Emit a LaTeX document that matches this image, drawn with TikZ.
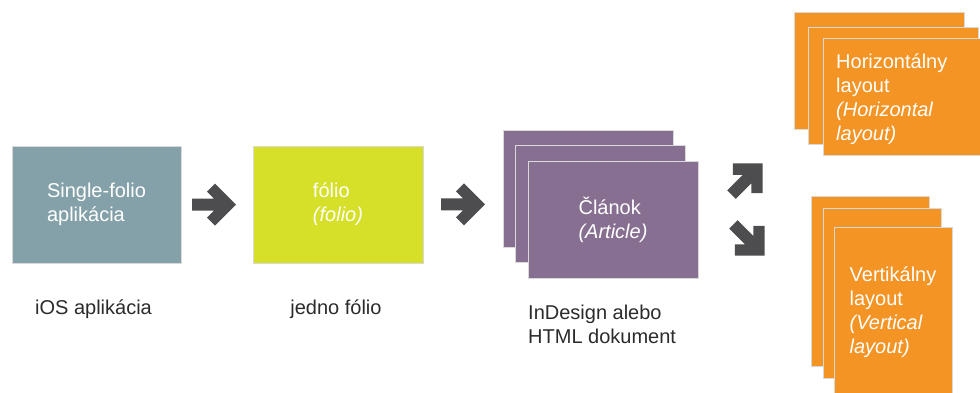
\documentclass[tikz,border=0pt]{standalone}
\usepackage{fontspec}
\setmainfont{Liberation Sans}
\usetikzlibrary{calc}
\definecolor{tealbox}{HTML}{84A1A9}
\definecolor{lime}{HTML}{D6E029}
\definecolor{plum}{HTML}{876F91}
\definecolor{orng}{HTML}{F39424}
\definecolor{agray}{HTML}{4D4D4F}
\definecolor{tgray}{HTML}{2B2B2B}
\tikzset{
  card/.style={draw=white!85!black, line width=0.8pt, inner sep=0pt, minimum width=170pt, minimum height=117pt},
  tallcard/.style={card, minimum width=118pt, minimum height=170pt},
  intext/.style={text=white, align=left, inner sep=0pt, font=\fontsize{20}{24}\selectfont},
  caption/.style={text=tgray, align=left, inner sep=0pt, font=\fontsize{20}{24}\selectfont},
  blockarrow/.pic={\fill[agray] (-22,-6) -- (0,-6) -- (-7,-13) -- (1,-21) -- (22,0) -- (1,21) -- (-7,13) -- (0,6) -- (-22,6) -- cycle;}
}
\begin{document}
\begin{tikzpicture}[x=1pt,y=-1pt]
\useasboundingbox (0,0) rectangle (980,392);
\clip (0,0) rectangle (980,392);
% first box
\node[card, fill=tealbox, minimum width=169pt] (app) at (96.5,204.5) {};
\node[intext] (apptext) at (app.center) {Single-folio\\aplikácia};
\node[caption] (appcap) at (93.5,309) {iOS aplikácia};
% folio
\node[card, fill=lime] (folio) at (338,204.5) {};
\node[intext] (foliotext) at (folio.center) {fólio\\\textit{(folio)}};
\node[caption] (foliocap) at (336,309) {jedno fólio};
% articles
\node[card, fill=plum] (art3) at (588,188.5) {};
\node[card, fill=plum] (art2) at (600,204) {};
\node[card, fill=plum] (art1) at (613,219.5) {};
\node[intext] (arttext) at (art1.center) {Článok\\\textit{(Article)}};
\node[caption, anchor=west] (artcap) at (528,324) {InDesign alebo\\HTML dokument};
% horizontal layouts
\node[card, fill=orng] (hor3) at (879,71) {};
\node[card, fill=orng] (hor2) at (893,86) {};
\node[card, fill=orng] (hor1) at (908,97) {};
\node[intext, anchor=west] (hortext) at (836,99) {Horizontálny\\layout\\\textit{(Horizontal}\\\textit{layout)}};
% vertical layouts
\node[tallcard, fill=orng] (ver3) at (870.5,281.5) {};
\node[tallcard, fill=orng] (ver2) at (882,293) {};
\node[tallcard, fill=orng] (ver1) at (893,312) {};
\node[intext] (vertext) at (ver1.center) {Vertikálny\\layout\\\textit{(Vertical}\\\textit{layout)}};
% block arrows
\pic at ($(app.east)!0.5!(folio.west)+(-3,0)$) {blockarrow};
\pic at ($(folio.east)!0.5!(art2.west)+(-6,0)$) {blockarrow};
\pic[rotate=45] at (747,179) {blockarrow};
\pic[rotate=-45] at (749,240) {blockarrow};
\end{tikzpicture}
\end{document}
